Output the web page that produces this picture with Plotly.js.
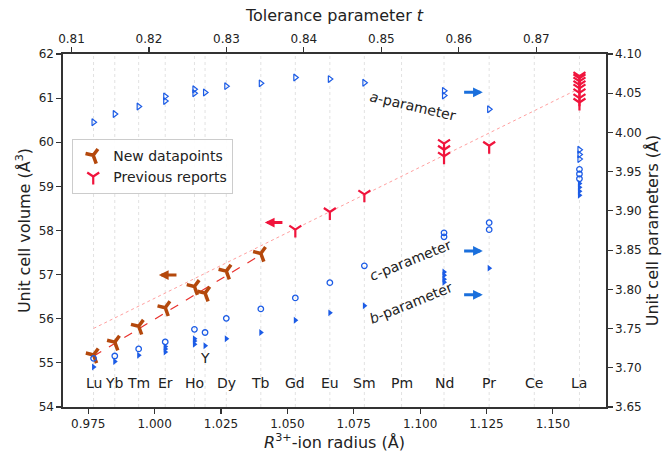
<!DOCTYPE html>
<html>
<head>
<meta charset="utf-8">
<script src="https://cdn.plot.ly/plotly-3.0.1.min.js"></script>
<style>html,body{margin:0;padding:0;background:#fff;}#chart{width:670px;height:456px;}</style>
</head>
<body>
<div id="chart"></div>
<script>
// Ion labels and radii (Å)
const elements = ['Lu','Yb','Tm','Er','Ho','Y','Dy','Tb','Gd','Eu','Sm','Pm','Nd','Pr','Ce','La'];
const radii    = [0.977,0.985,0.994,1.004,1.015,1.019,1.027,1.040,1.053,1.066,1.079,1.093,1.109,1.126,1.143,1.160];

// Unit cell volume: new datapoints (Å^3)
const newX = [0.977,0.985,0.994,1.004,1.015,1.019,1.027,1.040];
const newV = [55.18,55.47,55.83,56.25,56.73,56.58,57.08,57.48];

// Unit cell volume: previous reports (Å^3)
const prevX = [1.053,1.066,1.079,1.109,1.109,1.109,1.126,1.160,1.160,1.160,1.160,1.160,1.160,1.160,1.160];
const prevV = [58.02,58.42,58.82,59.97,59.83,59.68,59.92,61.50,61.45,61.38,61.30,61.22,61.12,61.00,60.90];

// Fit lines
const fitPrevX = [0.977,1.160];
const fitPrevV = [55.78,61.22];
const fitNewX  = [0.977,1.040];
const fitNewV  = [55.15,57.45];

// Lattice parameters (Å)
const aX = [0.977,0.985,0.994,1.004,1.004,1.015,1.015,1.019,1.027,1.040,1.053,1.066,1.079,1.109,1.109,1.126,1.160,1.160,1.160];
const aV = [4.013,4.0235,4.033,4.046,4.040,4.055,4.050,4.051,4.059,4.0626,4.070,4.068,4.0634,4.053,4.047,4.0295,3.978,3.972,3.966];
const cX = [0.977,0.985,0.994,1.004,1.015,1.019,1.027,1.040,1.053,1.066,1.079,1.109,1.109,1.126,1.126,1.160,1.160,1.160];
const cV = [3.712,3.715,3.724,3.733,3.749,3.745,3.763,3.775,3.789,3.8085,3.830,3.872,3.867,3.885,3.876,3.953,3.947,3.941];
const bX = [0.977,0.985,0.994,1.004,1.004,1.004,1.015,1.015,1.015,1.019,1.027,1.040,1.053,1.066,1.079,1.109,1.109,1.109,1.109,1.126,1.160,1.160,1.160,1.160];
const bV = [3.701,3.708,3.716,3.727,3.724,3.720,3.737,3.734,3.730,3.728,3.737,3.745,3.7605,3.770,3.779,3.822,3.818,3.813,3.809,3.827,3.935,3.930,3.925,3.920];

// Axis ticks
const xTicks   = [0.975,1.000,1.025,1.050,1.075,1.100,1.125,1.150];
const tolTicks = [0.81,0.82,0.83,0.84,0.85,0.86,0.87];
const yTicks   = [54,55,56,57,58,59,60,61,62];
const y2Ticks  = [3.65,3.70,3.75,3.80,3.85,3.90,3.95,4.00,4.05,4.10];

const FONT = 'DejaVu Sans';
const BLUE = '#1c5ce6';
const RED = '#f0143c';
const BROWN = '#b4480c';
const AX = '#333333';

const traces = [
  {x: fitPrevX, y: fitPrevV, mode:'lines', line:{color:'#ffa0a0', width:1, dash:'dot'}, showlegend:false, hoverinfo:'skip'},
  {x: fitNewX, y: fitNewV, mode:'lines', line:{color:'#e8302c', width:1.2, dash:'dash'}, showlegend:false, hoverinfo:'skip'},
  {x: aX, y: aV, yaxis:'y2', mode:'markers', marker:{symbol:'triangle-right-open', size:6, color:BLUE, line:{width:1.2}}, showlegend:false},
  {x: cX, y: cV, yaxis:'y2', mode:'markers', marker:{symbol:'circle-open', size:5.5, color:BLUE, line:{width:1.3}}, showlegend:false},
  {x: bX, y: bV, yaxis:'y2', mode:'markers', marker:{symbol:'triangle-right', size:6, color:BLUE}, showlegend:false},
  {x: newX, y: newV, mode:'markers', name:'New datapoints', marker:{symbol:'y-down', size:11, angle:-20, color:BROWN, line:{color:BROWN, width:3.5}}},
  {x: prevX, y: prevV, mode:'markers', name:'Previous reports', marker:{symbol:'y-down', size:10, color:RED, line:{color:RED, width:2.2}}},
  {x: [], y: [], xaxis:'x2', mode:'markers', showlegend:false, hoverinfo:'skip'}
];

const shapes = radii.map(r => ({type:'line', xref:'x', yref:'paper', x0:r, x1:r, y0:0, y1:1,
  line:{color:'#e2e2e2', width:1, dash:'dot'}, layer:'below'}));

const annotations = elements.map((el, i) => ({
  x: radii[i], y: el === 'Y' ? 55.12 : 54.55, xref:'x', yref:'y', text: el, showarrow:false,
  font:{family:FONT, size:14, color:'#222'}
}));

annotations.push(
  {x:1.0972, y:4.0337, xref:'x', yref:'y2', text:'<i>a</i>-parameter', textangle:13, showarrow:false, font:{family:FONT, size:14, color:'#222'}},
  {x:1.0965, y:3.8374, xref:'x', yref:'y2', text:'<i>c</i>-parameter', textangle:-22, showarrow:false, font:{family:FONT, size:14, color:'#222'}},
  {x:1.0965, y:3.7826, xref:'x', yref:'y2', text:'<i>b</i>-parameter', textangle:-22, showarrow:false, font:{family:FONT, size:14, color:'#222'}}
);

function arrow(hx, hy, tx, ty, yref, color) {
  return {x:hx, y:hy, ax:tx, ay:ty, xref:'x', yref:yref, axref:'x', ayref:yref, text:'',
    showarrow:true, arrowhead:2, arrowsize:0.65, arrowwidth:3, arrowcolor:color, standoff:0, startstandoff:0};
}
annotations.push(
  arrow(1.1236, 4.0512, 1.1160, 4.0512, 'y2', '#1a6fdc'),
  arrow(1.1236, 3.849, 1.1160, 3.849, 'y2', '#1a6fdc'),
  arrow(1.1236, 3.793, 1.1160, 3.793, 'y2', '#1a6fdc'),
  arrow(1.0415, 58.18, 1.0487, 58.18, 'y', RED),
  arrow(1.0016, 56.99, 1.0088, 56.99, 'y', BROWN)
);

const axisCommon = {
  showline:true, linecolor:AX, linewidth:1.6, ticks:'outside', ticklen:5, tickwidth:1.2, tickcolor:AX,
  showgrid:false, zeroline:false, tickfont:{family:FONT, size:12, color:'#222'}
};

const layout = {
  width:670, height:456,
  margin:{l:63, r:64, t:54, b:49, pad:0},
  paper_bgcolor:'#fff', plot_bgcolor:'#fff',
  font:{family:FONT, color:'#222'},
  showlegend:true,
  legend:{x:0.017, y:0.76, xanchor:'left', yanchor:'top', bgcolor:'rgba(255,255,255,0.9)',
    bordercolor:'#cccccc', borderwidth:1, font:{family:FONT, size:14, color:'#222'}, tracegroupgap:0},
  xaxis: Object.assign({}, axisCommon, {range:[0.9655,1.170], tickvals:xTicks, ticktext:xTicks.map(v=>v.toFixed(3)),
    title:{text:'<i>R</i><sup>3+</sup>-ion radius (Å)', font:{family:FONT, size:16, color:'#222'}, standoff:4}}),
  xaxis2: Object.assign({}, axisCommon, {overlaying:'x', side:'top', range:[0.8089,0.8790], tickvals:tolTicks,
    ticktext:tolTicks.map(v=>v.toFixed(2)),
    title:{text:'Tolerance parameter <i>t</i>', font:{family:FONT, size:16, color:'#222'}, standoff:6}}),
  yaxis: Object.assign({}, axisCommon, {range:[54,62], tickvals:yTicks, ticktext:yTicks.map(String),
    title:{text:'Unit cell volume (Å<sup>3</sup>)', font:{family:FONT, size:16, color:'#222'}, standoff:4}}),
  yaxis2: Object.assign({}, axisCommon, {overlaying:'y', side:'right', range:[3.65,4.10], tickvals:y2Ticks,
    ticktext:y2Ticks.map(v=>v.toFixed(2)),
    title:{text:'Unit cell parameters (Å)', font:{family:FONT, size:16, color:'#222'}, standoff:6}}),
  shapes: shapes,
  annotations: annotations
};

Plotly.newPlot('chart', traces, layout, {displayModeBar:false, staticPlot:true});
</script>
</body>
</html>
